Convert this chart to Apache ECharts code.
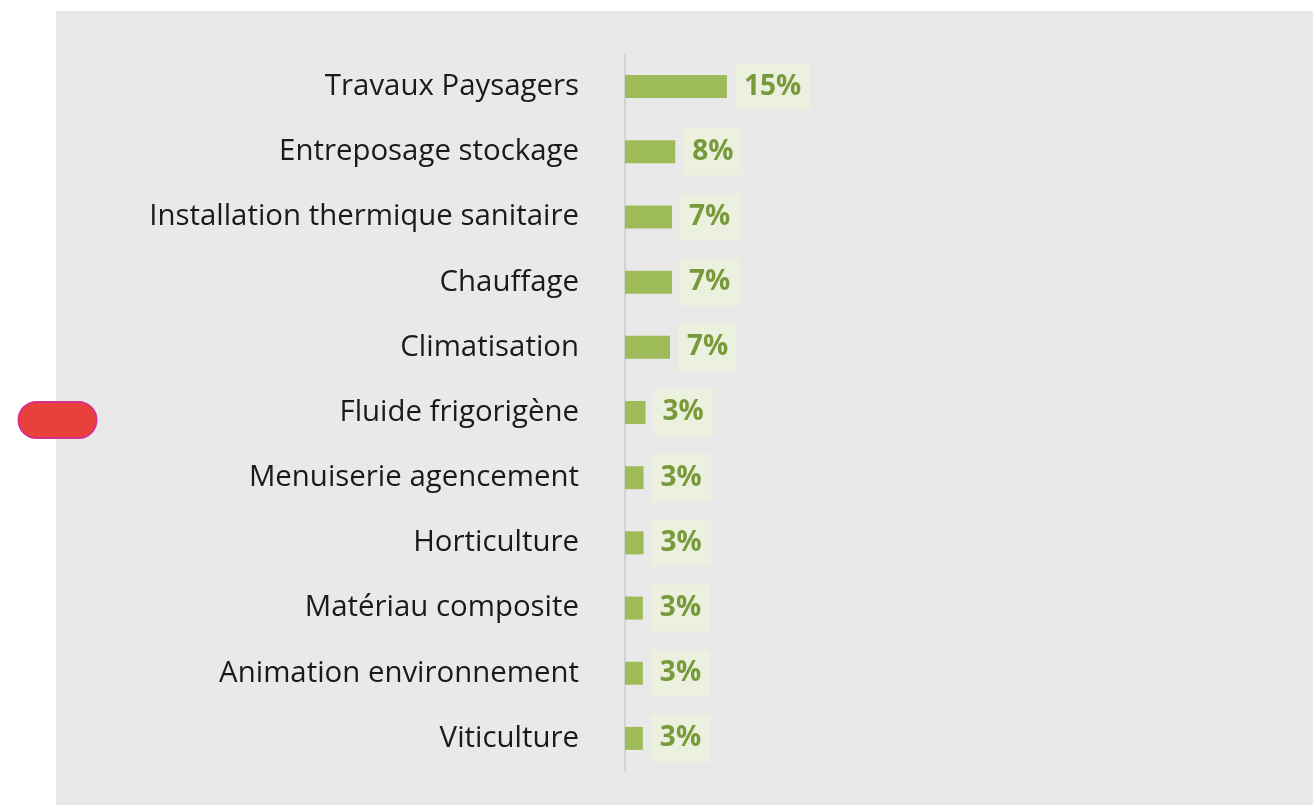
<!DOCTYPE html>
<html>
<head>
<meta charset="utf-8">
<script src="https://cdn.jsdelivr.net/npm/echarts@6/dist/echarts.min.js"></script>
<style>
  html, body { margin: 0; padding: 0; background: #fff; }
  #chart { width: 1314px; height: 805px; }
</style>
</head>
<body>
<div id="chart"></div>
<script>
// métiers, du plus fréquent au moins fréquent
const categories = [
  'Travaux Paysagers',
  'Entreposage stockage',
  'Installation thermique sanitaire',
  'Chauffage',
  'Climatisation',
  'Fluide frigorigène',
  'Menuiserie agencement',
  'Horticulture',
  'Matériau composite',
  'Animation environnement',
  'Viticulture'
]
// part en % (estimée sur la longueur des barres)
const values = [15.4, 7.6, 7.1, 7.1, 6.8, 3.1, 2.8, 2.8, 2.7, 2.7, 2.7]
// étiquettes affichées
const shownPct = ['15%', '8%', '7%', '7%', '7%', '3%', '3%', '3%', '3%', '3%', '3%']

const chart = echarts.init(document.getElementById('chart'))

const option = {
  backgroundColor: '#ffffff',
  animation: false,
  textStyle: { fontFamily: 'Open Sans' },
  graphic: [
    {
      type: 'rect',
      z: -10,
      shape: { x: 56, y: 11, width: 1257, height: 794 },
      style: { fill: '#e9e9e9' }
    },
    {
      type: 'rect',
      z: 10,
      shape: { x: 18.5, y: 402, width: 78, height: 36, r: 18 },
      style: { fill: '#e8403a', stroke: '#d9318a', lineWidth: 2 }
    }
  ],
  grid: {
    left: 625,
    right: 27,
    top: 54,
    bottom: 34
  },
  xAxis: {
    type: 'value',
    min: 0,
    max: 100,
    show: false
  },
  yAxis: {
    type: 'category',
    inverse: true,
    data: categories,
    axisLine: { lineStyle: { color: '#d3d3d3', width: 2 } },
    axisTick: { show: false },
    axisLabel: {
      margin: 46,
      fontSize: 29.4,
      color: '#1a1a1a',
      fontFamily: 'Open Sans'
    }
  },
  series: [
    {
      type: 'bar',
      data: values,
      barWidth: 23,
      itemStyle: { color: '#9dbb59' },
      label: {
        show: true,
        position: 'right',
        distance: 8,
        formatter: p => shownPct[p.dataIndex],
        fontSize: 28,
        fontWeight: 'bold',
        fontFamily: 'Open Sans',
        color: '#789a3a',
        backgroundColor: '#ecf0df',
        lineHeight: 28,
        padding: [14, 9, 5, 9]
      }
    }
  ]
}

chart.setOption(option)
</script>
</body>
</html>
